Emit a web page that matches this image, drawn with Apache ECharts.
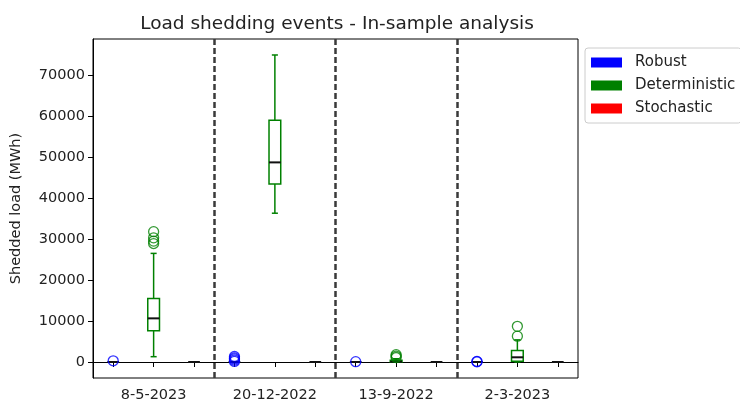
<!DOCTYPE html>
<html>
<head>
<meta charset="utf-8">
<script src="https://cdn.jsdelivr.net/npm/echarts@6/dist/echarts.min.js"></script>
<style>
  html, body { margin: 0; padding: 0; background: #fff; }
  #chart { width: 740px; height: 403px; }
</style>
</head>
<body>
<div id="chart"></div>
<script>
// Event dates, one group of three boxes per date
const dates = ['8-5-2023', '20-12-2022', '13-9-2022', '2-3-2023'];
const models = ['Robust', 'Deterministic', 'Stochastic'];

// Five-number summaries per date: [min, q1, median, q3, max] (MWh)
const robustBoxes = [
  [0, 0, 0, 0, 0],
  [0, 0, 0, 0, 0],
  [0, 0, 0, 0, 0],
  [0, 0, 0, 0, 0]
];
const deterministicBoxes = [
  [1300, 7630, 10650, 15500, 26500],
  [36300, 43400, 48700, 58950, 74900],
  [0, 0, 100, 400, 800],
  [0, 200, 1150, 2800, 5400]
];
const stochasticBoxes = [
  [0, 0, 0, 0, 0],
  [0, 0, 0, 0, 0],
  [0, 0, 0, 0, 0],
  [0, 0, 0, 0, 0]
];

// Outliers per date (MWh)
const robustOutliers = [[300], [150, 450, 750, 1000, 1350], [80], [60, 150]];
const deterministicOutliers = [[28900, 29500, 30300, 31800], [], [1100, 1450, 1800], [6300, 8700]];
const stochasticOutliers = [[], [], [], []];

// Y tick labels and group separators (in slot units)
const yTicks = [0, 10000, 20000, 30000, 40000, 50000, 60000, 70000];
const separators = [3.5, 6.5, 9.5];

const colors = { Robust: '#0000ff', Deterministic: '#008000', Stochastic: '#ff0000' };
const boxSets = { Robust: robustBoxes, Deterministic: deterministicBoxes, Stochastic: stochasticBoxes };
const outlierSets = { Robust: robustOutliers, Deterministic: deterministicOutliers, Stochastic: stochasticOutliers };

const BOX_HALF = 0.145;
const CAP_HALF = 0.075;
const FONT = 'DejaVu Sans';

// slot position of a model's box within a date group
const slot = (g, m) => g * 3 + m + 1;

// 12 slot labels: only the middle slot of each group carries the date
const slotLabels = [];
dates.forEach(d => { slotLabels.push('', d, ''); });

function makeRenderer(color) {
  return function (params, api) {
    const x = api.value(0);
    const mn = api.value(1), q1 = api.value(2), med = api.value(3), q3 = api.value(4), mx = api.value(5);
    const pMin = api.coord([x, mn]);
    const pQ1 = api.coord([x, q1]);
    const pMed = api.coord([x, med]);
    const pQ3 = api.coord([x, q3]);
    const pMax = api.coord([x, mx]);
    const left = api.coord([x - BOX_HALF, q1])[0];
    const right = api.coord([x + BOX_HALF, q1])[0];
    const capL = api.coord([x - CAP_HALF, q1])[0];
    const capR = api.coord([x + CAP_HALF, q1])[0];
    const cx = pMed[0];
    const stroke = { stroke: color, lineWidth: 1.5, fill: null };
    const children = [];
    if (mn < q1) {
      children.push({ type: 'line', shape: { x1: cx, y1: pQ1[1], x2: cx, y2: pMin[1] }, style: stroke });
      children.push({ type: 'line', shape: { x1: capL, y1: pMin[1], x2: capR, y2: pMin[1] }, style: stroke });
    }
    if (mx > q3) {
      children.push({ type: 'line', shape: { x1: cx, y1: pQ3[1], x2: cx, y2: pMax[1] }, style: stroke });
      children.push({ type: 'line', shape: { x1: capL, y1: pMax[1], x2: capR, y2: pMax[1] }, style: stroke });
    }
    if (q3 > q1) {
      children.push({ type: 'rect', shape: { x: left, y: pQ3[1], width: right - left, height: pQ1[1] - pQ3[1] }, style: { stroke: color, lineWidth: 1.5, fill: 'none' } });
    }
    // median drawn last, in black
    children.push({ type: 'line', shape: { x1: left, y1: pMed[1], x2: right, y2: pMed[1] }, style: { stroke: '#111', lineWidth: 2 }, z2: 10 });
    return { type: 'group', children: children };
  };
}

const series = [];
models.forEach((name, m) => {
  const data = boxSets[name].map((b, g) => [slot(g, m)].concat(b));
  const s = {
    name: name,
    type: 'custom',
    xAxisIndex: 1,
    yAxisIndex: 0,
    renderItem: makeRenderer(colors[name]),
    encode: { x: 0, y: [1, 2, 3, 4, 5] },
    itemStyle: { color: colors[name] },
    data: data,
    z: 3
  };
  if (m === 0) {
    s.markLine = {
      silent: true,
      symbol: 'none',
      label: { show: false },
      lineStyle: { color: '#3a3a3a', width: 2.5, type: [6, 3] },
      data: separators.map(v => ({ xAxis: v }))
    };
  }
  series.push(s);
});

models.forEach((name, m) => {
  const pts = [];
  outlierSets[name].forEach((arr, g) => arr.forEach(v => pts.push([slot(g, m), v])));
  series.push({
    name: name + ' outliers',
    type: 'scatter',
    xAxisIndex: 1,
    yAxisIndex: 0,
    symbol: 'circle',
    symbolSize: 10,
    itemStyle: { color: 'rgba(0,0,0,0)', borderColor: colors[name], borderWidth: 1.3 },
    data: pts,
    z: 4
  });
});

const chart = echarts.init(document.getElementById('chart'), null, { renderer: 'canvas' });
chart.setOption({
  animation: false,
  backgroundColor: '#fff',
  title: {
    text: 'Load shedding events - In-sample analysis',
    left: 332,
    top: 10,
    textAlign: 'center',
    textStyle: { fontFamily: FONT, fontSize: 18.5, fontWeight: 'normal', color: '#222' }
  },
  legend: {
    data: models,
    orient: 'vertical',
    left: 585,
    top: 48,
    padding: [6, 6, 6, 6],
    itemWidth: 31,
    itemHeight: 10,
    itemGap: 6,
    icon: 'rect',
    borderColor: '#cccccc',
    borderWidth: 1,
    borderRadius: 3,
    textStyle: { fontFamily: FONT, fontSize: 15, lineHeight: 17, color: '#222', padding: [0, 0, 0, 8] }
  },
  grid: {
    left: 93, right: 162, top: 39, bottom: 25,
    show: true, borderColor: '#000', borderWidth: 1, containLabel: false
  },
  xAxis: [
    {
      type: 'category',
      data: slotLabels,
      boundaryGap: true,
      axisLine: { lineStyle: { color: '#000', width: 1 } },
      axisTick: { show: true, alignWithLabel: true, interval: 0, length: 5, lineStyle: { color: '#000' } },
      axisLabel: {
        interval: 0,
        margin: 10,
        fontFamily: FONT, fontSize: 14.5, color: '#222'
      },
      splitLine: { show: false }
    },
    {
      type: 'value',
      min: 0.5,
      max: 12.5,
      show: false,
      splitLine: { show: false }
    }
  ],
  yAxis: {
    type: 'value',
    min: -3900,
    max: 78800,
    name: 'Shedded load (MWh)',
    nameLocation: 'middle',
    nameGap: 69,
    nameTextStyle: { fontFamily: FONT, fontSize: 14.5, color: '#222' },
    axisLine: { show: true, lineStyle: { color: '#000', width: 1 } },
    axisTick: { show: true, length: 5, customValues: yTicks, lineStyle: { color: '#000' } },
    axisLabel: { customValues: yTicks, margin: 8, formatter: v => String(v), fontFamily: FONT, fontSize: 14.5, color: '#222' },
    splitLine: { show: false }
  },
  series: series
});
</script>
</body>
</html>
